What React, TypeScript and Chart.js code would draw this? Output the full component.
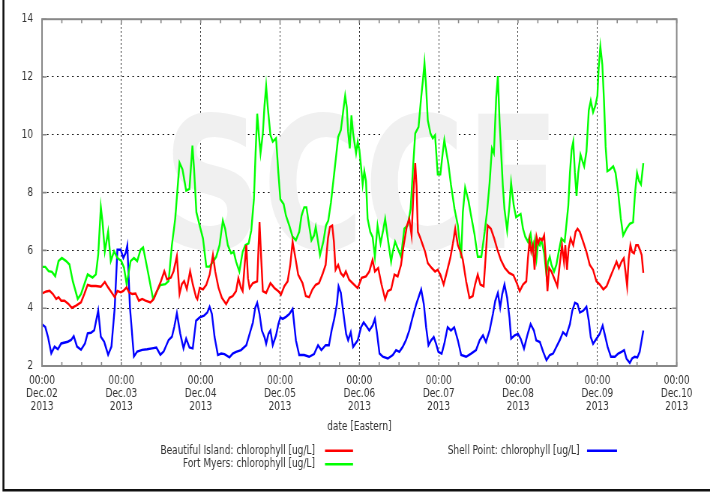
import React, { useEffect, useRef } from 'react';
import { Chart, registerables } from 'chart.js';

Chart.register(...registerables);

// ---------- data (hours since Dec 02 2013 00:00 Eastern) ----------
const dayLabels = ['Dec.02', 'Dec.03', 'Dec.04', 'Dec.05', 'Dec.06', 'Dec.07', 'Dec.08', 'Dec.09', 'Dec.10'];
const timeLabel = '00:00';
const yearLabel = '2013';
const yTicks = [2, 4, 6, 8, 10, 12, 14];
const xTitle = 'date [Eastern]';
const seriesNames = [
  'Beautiful Island: chlorophyll [ug/L]',
  'Fort Myers: chlorophyll [ug/L]',
  'Shell Point: chlorophyll [ug/L]',
];
const seriesColors = ['#ff0000', '#00ff00', '#0000ff'];

const biHours = [0, 1.3, 2.3, 3.3, 4.3, 5, 5.8, 6.8, 8, 9, 10.3, 11.8, 12.8, 13.8, 14.8, 16.3, 17.8, 19, 20, 21, 22, 22.8, 23.8, 24.6, 25.6, 26.3, 27.3, 28.3, 29.3, 30.3, 31.3, 32.8, 33.8, 34.8, 36, 37, 37.8, 39, 39.8, 40.8, 41.6, 42.3, 43, 43.8, 44.8, 45.6, 46.6,
  47, 47.7, 48.7, 49.7, 50.7, 51.7, 52.4, 53.4, 54.4, 55.7, 56.7, 57.7, 58.7, 59.4, 60.2, 60.7, 61.3, 61.8, 62.3, 62.8, 63.8, 65.1, 65.8, 66.3, 66.8, 67.8, 69.1, 70.3, 71.5, 72.3, 73.3, 74.3, 75.1, 75.8, 76.5, 77.5, 78.8, 79.8, 80.8, 81.8, 82.8, 83.8, 84.8, 85.8, 86.5, 87.1, 87.8, 88.3, 88.8, 89.6, 90.4, 91.2, 91.9, 92.9, 93.9, 94.9,
  95.5, 96.7, 98, 99, 100, 100.7, 101.7, 102.7, 103.8, 104.6, 105.6, 106.6, 107.6, 108.6, 109.4, 110.4, 111.1, 111.8, 112.4, 112.9, 113.3, 113.7, 114.5, 115.2, 115.9, 116.7, 117.9, 118.9, 119.7, 120.5, 121.5, 122.5, 123.5, 124.3, 125, 125.8, 126.6, 127.3, 128.3, 129.3, 130.3, 131, 131.8, 132.6, 133.6, 134.3, 134.8, 135.8, 136.8, 137.8, 138.8, 140, 141.3, 142.6, 143.6,
  144.5, 145.5, 146.5, 147, 147.5, 148, 148.5, 149, 149.6, 150.1, 150.6, 151.3, 151.9, 152.3, 152.9, 153.4, 154.1, 155.1, 155.9, 156.6, 157.3, 157.9, 158.3, 158.8, 159.3, 159.9, 160.7, 161.4, 162, 162.7, 163.7, 164.7, 165.7, 166.7, 167.7, 168.7, 169.8, 170.8, 171.8, 172.8, 173.8, 174.5, 175.3, 176, 176.5, 177, 177.5, 178, 178.5, 179.1, 179.7, 180.3, 180.9, 181.4, 181.9];
const biValues = [4.51, 4.58, 4.6, 4.49, 4.32, 4.38, 4.26, 4.26, 4.15, 4.01, 4.09, 4.2, 4.49, 4.81, 4.77, 4.77, 4.74, 4.91, 4.72, 4.55, 4.38, 4.6, 4.55, 4.6, 4.72, 4.55, 4.49, 4.51, 4.26, 4.32, 4.26, 4.2, 4.32, 4.6, 4.94, 5.28, 5.0, 5.06, 5.28, 5.8, 4.49, 4.83, 4.94, 4.66, 5.28, 4.83, 4.38,
  4.31, 4.7, 4.65, 4.81, 5.16, 5.84, 5.27, 4.7, 4.36, 4.14, 4.36, 4.42, 4.59, 5.04, 4.7, 4.59, 5.5, 6.18, 5.04, 4.7, 4.87, 4.93, 6.98, 5.73, 4.59, 4.53, 4.87, 4.7, 4.59, 4.47, 4.76, 4.93, 5.5, 6.3, 5.84, 5.16, 4.87, 4.42, 4.38, 4.65, 4.81, 4.87, 5.16, 5.5, 6.41, 6.81, 6.86, 6.3, 5.33, 5.5, 5.21, 5.1, 5.27, 4.99, 4.87, 4.76,
  4.7, 5.05, 5.1, 5.27, 5.67, 5.27, 5.39, 4.82, 4.31, 4.59, 4.65, 5.16, 5.1, 5.5, 6.18, 6.86, 7.09, 6.52, 8.11, 9.02, 8.23, 6.64, 6.41, 6.18, 5.95, 5.56, 5.39, 5.27, 5.33, 5.16, 4.82, 5.27, 5.73, 6.24, 6.75, 6.18, 5.95, 5.67, 4.93, 4.36, 4.42, 4.82, 5.16, 4.82, 4.76, 5.95, 6.86, 6.75, 6.41, 6.01, 5.67, 5.39, 5.22, 5.14, 4.88,
  4.59, 4.82, 4.93, 5.73, 6.35, 5.95, 6.18, 5.33, 6.47, 6.24, 6.41, 6.35, 6.52, 5.84, 4.59, 5.39, 5.27, 4.99, 4.76, 5.5, 6.18, 5.61, 6.18, 5.33, 6.07, 6.41, 6.18, 6.64, 6.75, 6.64, 6.3, 5.95, 5.5, 5.33, 4.93, 4.82, 4.65, 4.76, 5.05, 5.33, 5.61, 5.39, 5.61, 5.73, 5.27, 4.76, 5.73, 6.18, 5.95, 5.9, 6.18, 6.18, 6.01, 5.84, 5.22];

const fmHours = [0, 1, 2, 3, 4, 5, 6, 7.3, 8.3, 9.3, 10.8, 11.8, 13.8, 15.3, 16.3, 17, 17.8, 18.3, 19, 20, 20.8, 21.8, 22.8, 24, 24.8, 25.6, 26.8, 27.8, 28.8, 29.8, 30.6, 31.8, 33.6, 34.8, 35.8, 37.3, 38.3, 39.3, 40.3, 41.6, 42.5, 43.6, 44.6, 45.5, 46,
  46.7, 47.7, 48.7, 49.7, 50.7, 51.7, 52.7, 53.7, 54.7, 55.4, 56.2, 57.2, 58, 58.7, 59.7, 60.7, 61.5, 62.5, 63.3, 64.1, 64.6, 65.1, 65.6, 66.1, 66.8, 67.3, 67.8, 68.3, 69.1, 69.8, 70.8, 71.5, 72.1, 73.1, 73.8, 74.8, 75.8, 76.8, 77.8, 78.5, 79.3, 80, 80.8, 81.5, 82.3, 82.8, 83.5, 84.1, 85.1, 85.9, 86.6, 87.4, 88.4, 89.6, 90.4, 91.2, 91.7, 92.2, 92.6, 93.1, 93.6, 94.1,
  95, 95.5, 96, 96.5, 97, 97.5, 98, 98.5, 99.3, 100, 100.7, 101.5, 102.4, 103.1, 103.8, 104.6, 105.6, 106.1, 106.8, 107.6, 108.6, 109.6, 110.6, 111.5, 112.2, 112.9, 113.9, 114.7, 115.2, 115.7, 116.2, 116.7, 117.5, 118.2, 118.9, 119.7, 120.5, 121.2, 121.7, 122.2, 122.9, 123.7, 124.8, 125.8, 126.8, 127.3, 128, 129, 129.8, 130.8, 131.8, 132.9, 133.9, 134.7, 135.4, 136.1, 136.7, 137.4, 137.9, 138.4, 138.9, 139.4, 139.9, 140.7, 141.4, 141.9, 142.7, 143.4,
  144, 144.8, 145.5, 146.2, 147, 147.8, 148.5, 149.1, 149.6, 150.1, 150.6, 151.1, 151.9, 152.6, 153.1, 153.6, 154.1, 154.9, 155.6, 156.3, 157.1, 158.1, 158.6, 159.2, 159.7, 160.2, 160.7, 161.2, 161.7, 162.2, 162.9, 163.5, 164, 164.7, 165.4, 166, 166.7, 167.4, 168, 168.4, 168.9, 169.5, 170, 170.5, 171, 171.8, 172.8, 173.5, 174.3, 175.1, 175.8, 176.8, 177.8, 178.8, 179.4, 180, 180.6, 181.2, 181.9];
const fmValues = [5.43, 5.43, 5.28, 5.26, 5.11, 5.63, 5.74, 5.63, 5.51, 4.94, 4.32, 4.49, 5.17, 5.06, 5.17, 5.85, 7.5, 6.99, 5.97, 6.65, 5.63, 5.97, 5.74, 5.63, 5.4, 4.83, 5.63, 5.74, 5.63, 6.02, 6.1, 5.4, 4.32, 4.6, 4.8, 4.83, 4.94, 6.19, 7.1, 9.03, 8.8, 8.07, 8.13, 9.63, 8.8,
  7.32, 6.86, 6.41, 5.44, 5.44, 5.61, 5.78, 6.18, 7.03, 6.75, 6.18, 5.9, 5.95, 5.61, 5.27, 5.95, 6.18, 6.24, 6.69, 7.77, 9.36, 10.73, 9.99, 9.36, 10.05, 11.01, 11.69, 10.95, 9.99, 9.76, 9.88, 8.68, 7.77, 7.6, 7.2, 6.86, 6.47, 6.35, 6.64, 7.2, 7.49, 7.49, 6.86, 6.35, 6.52, 6.81, 6.3, 5.84, 6.3, 6.86, 7.03, 7.66, 8.68, 9.93, 10.16, 10.9, 11.35, 10.95, 10.1, 9.53, 10.67, 10.05,
  9.36, 9.76, 9.48, 8.91, 8.28, 8.74, 8.4, 7.09, 6.64, 6.47, 5.78, 6.86, 6.24, 6.64, 7.09, 6.41, 5.61, 5.95, 6.3, 6.07, 5.78, 6.75, 6.86, 7.43, 8.8, 10.05, 10.27, 11.3, 11.86, 12.49, 11.64, 10.5, 10.05, 9.88, 9.99, 8.63, 8.63, 9.36, 9.82, 9.48, 9.02, 8.28, 7.43, 6.86, 5.73, 7.32, 8.17, 7.72, 7.2, 6.58, 5.78, 5.78, 6.64, 7.43, 8.34, 9.53, 9.36, 11.3, 12.03, 10.5, 9.36, 8.23, 7.43, 6.69, 7.55, 8.34, 7.55, 7.15,
  7.2, 7.26, 6.75, 6.47, 6.3, 6.58, 5.95, 6.35, 5.73, 6.3, 6.18, 6.35, 5.9, 5.16, 5.61, 5.78, 5.5, 5.27, 5.5, 5.95, 6.41, 6.3, 6.86, 7.55, 8.68, 9.48, 9.76, 8.68, 7.89, 8.68, 9.31, 9.08, 8.91, 9.42, 10.84, 11.18, 10.78, 11.01, 11.35, 12.32, 13.06, 12.43, 11.18, 9.59, 8.74, 8.8, 8.91, 8.68, 8.0, 7.09, 6.52, 6.75, 6.92, 6.98, 8.0, 8.68, 8.4, 8.28, 9.02];

const spHours = [0, 1, 1.8, 2.8, 3.8, 4.8, 5.8, 7.8, 8.8, 9.6, 10.6, 11.8, 13, 13.8, 14.8, 15.8, 17, 17.8, 18.8, 20, 21, 22, 22.8, 23.8, 24.6, 25.3, 25.8, 26.6, 27.8, 28.8, 30.3, 31.8, 33.3, 34.6, 35.8, 36.8, 38.3, 39.3, 40, 40.8, 41.8, 42.8, 43.6, 44.6, 45.6, 46.6,
  47.7, 49, 50, 50.7, 51.4, 52.2, 53.2, 54.2, 55.2, 56.7, 57.7, 58.7, 60.2, 61.8, 62.8, 63.8, 64.5, 65.1, 65.8, 66.5, 67.3, 67.8, 68.5, 69.1, 69.8, 70.8, 71.5, 72.1, 72.8, 73.8, 74.8, 75.8, 76.8, 77.8, 79.3, 80.8, 82.3, 83.5, 84.5, 85.8, 86.8, 87.6, 88.4, 89.2, 89.7, 90.4, 91.2, 92, 92.6, 93.4, 94.1,
  95.5, 96.5, 97.3, 98, 99, 100, 100.7, 101.3, 102.1, 103.1, 104.6, 106.1, 107.1, 108.1, 109.1, 110.1, 111.1, 112.1, 113.2, 114.7, 115.5, 116.2, 116.9, 117.7, 118.5, 119.2, 119.9, 120.9, 121.7, 122.7, 123.7, 124.7, 125.8, 126.8, 128.3, 129.8, 131.3, 132.4, 133.4, 134.3, 135.4, 136.4, 137.1, 137.9, 138.6, 139.2, 139.9, 140.7, 141.4, 141.9, 143,
  144, 144.8, 145.8, 146.8, 147.8, 148.8, 149.5, 150.6, 151.6, 152.6, 153.6, 154.6, 155.6, 156.6, 157.6, 158.6, 159.7, 160.4, 161.2, 162, 162.7, 163.7, 164.7, 165.4, 166, 166.7, 167.7, 168.7, 169.6, 170.3, 171.1, 172.1, 173.3, 174.3, 175.3, 176.1, 176.8, 177.8, 178.5, 179.3, 180.1, 180.8, 181.3, 181.9];
const spValues = [3.44, 3.35, 3.01, 2.44, 2.67, 2.58, 2.78, 2.84, 2.9, 3.03, 2.67, 2.56, 2.78, 3.13, 3.15, 3.24, 3.92, 3.01, 2.84, 2.39, 2.67, 4.03, 6.02, 6.02, 5.74, 5.91, 6.17, 4.03, 2.33, 2.5, 2.56, 2.58, 2.61, 2.64, 2.39, 2.5, 2.9, 3.01, 3.35, 3.83, 3.13, 2.61, 2.95, 2.64, 2.61, 3.57,
  3.68, 3.74, 3.85, 4.05, 3.8, 3.0, 2.38, 2.43, 2.41, 2.3, 2.43, 2.49, 2.55, 2.72, 3.11, 3.51, 4.02, 4.19, 3.8, 3.23, 3.0, 2.77, 3.11, 3.23, 2.72, 3.06, 3.45, 3.68, 3.63, 3.7, 3.8, 3.97, 2.89, 2.38, 2.38, 2.32, 2.41, 2.72, 2.55, 2.72, 2.72, 3.23, 3.63, 4.14, 4.76, 4.53, 3.8, 3.11, 2.89, 3.17, 2.66,
  2.89, 3.34, 3.51, 3.4, 3.23, 3.4, 3.63, 3.17, 2.43, 2.32, 2.26, 2.38, 2.55, 2.49, 2.66, 2.89, 3.23, 3.68, 4.14, 4.65, 4.14, 3.34, 2.72, 2.89, 3.0, 2.77, 2.49, 2.43, 2.77, 3.34, 3.23, 3.34, 2.89, 2.38, 2.32, 2.43, 2.55, 2.89, 3.06, 2.83, 3.23, 3.8, 4.25, 4.53, 4.02, 4.48, 4.82, 4.36, 3.68, 2.95, 3.06,
  3.11, 2.94, 2.6, 3.06, 3.45, 3.23, 2.89, 2.83, 2.49, 2.2, 2.38, 2.43, 2.66, 2.89, 3.17, 3.06, 3.45, 3.91, 4.19, 4.14, 3.85, 3.91, 4.05, 3.57, 3.0, 2.77, 2.94, 3.11, 3.4, 3.06, 2.66, 2.32, 2.32, 2.43, 2.49, 2.55, 2.26, 2.11, 2.26, 2.32, 2.3, 2.49, 2.83, 3.23];

// ---------- layout (canvas is drawn wide and squeezed horizontally) ----------
const W = 947;
const H = 492;
const SX = 710 / W;
const FONT = '"DejaVu Sans", sans-serif';
const TEXT = '#333333';
const FRAME = '#888888';

const toPts = (hs: number[], vs: number[]) => hs.map((h, i) => ({ x: h, y: vs[i] }));

const decorPlugin = {
  id: 'decor',
  beforeDatasetsDraw(chart: any) {
    const { ctx } = chart;
    ctx.save();
    ctx.font = `bold 184px ${FONT}`;
    ctx.fillStyle = '#f0f0f0';
    ctx.textBaseline = 'alphabetic';
    const text = 'SCCF';
    const w = ctx.measureText(text).width;
    const left = 163 / SX;
    const right = 560 / SX;
    ctx.translate(left, 248);
    ctx.scale((right - left) / w, 1);
    ctx.fillText(text, 0, 0);
    ctx.restore();
  },
  afterDatasetsDraw(chart: any) {
    const { ctx, chartArea: a } = chart;
    const xs = chart.scales.x;
    const ys = chart.scales.y;
    ctx.save();
    ctx.strokeStyle = FRAME;
    ctx.lineWidth = 1.6;
    ctx.beginPath();
    for (let h = 0; h <= 192; h += 6) {
      const px = xs.getPixelForValue(h);
      ctx.moveTo(px, a.bottom);
      ctx.lineTo(px, a.bottom - 4);
      ctx.moveTo(px, a.top);
      ctx.lineTo(px, a.top + 4);
    }
    for (const v of yTicks) {
      const py = ys.getPixelForValue(v);
      ctx.moveTo(a.left, py);
      ctx.lineTo(a.left + 6, py);
      ctx.moveTo(a.right, py);
      ctx.lineTo(a.right - 6, py);
    }
    ctx.stroke();
    ctx.lineWidth = 2;
    ctx.strokeRect(a.left, a.top, a.right - a.left, a.bottom - a.top);
    ctx.restore();
  },
  afterDraw(chart: any) {
    const { ctx, chartArea: a } = chart;
    ctx.save();
    ctx.font = `12px ${FONT}`;
    ctx.fillStyle = TEXT;
    ctx.textBaseline = 'middle';
    ctx.textAlign = 'center';
    ctx.fillText(xTitle, (a.left + a.right) / 2, 426.5);

    const legend = [
      { textRight: 315, lineL: 325, lineR: 353, y: 450.7 },
      { textRight: 315, lineL: 325, lineR: 353, y: 464.3 },
      { textRight: 579.5, lineL: 587, lineR: 617, y: 450.7 },
    ];
    legend.forEach((L, i) => {
      ctx.textAlign = 'right';
      ctx.fillStyle = TEXT;
      ctx.fillText(seriesNames[i], L.textRight / SX, L.y);
      ctx.strokeStyle = seriesColors[i];
      ctx.lineWidth = 2.6;
      ctx.beginPath();
      ctx.moveTo(L.lineL / SX, L.y);
      ctx.lineTo(L.lineR / SX, L.y);
      ctx.stroke();
    });

    ctx.strokeStyle = '#111111';
    ctx.lineWidth = 2.6;
    ctx.beginPath();
    ctx.moveTo(4.6, 0);
    ctx.lineTo(4.6, 490.3);
    ctx.lineTo(W, 490.3);
    ctx.stroke();
    ctx.restore();
  },
};

export default function App() {
  const ref = useRef<HTMLCanvasElement | null>(null);

  useEffect(() => {
    if (!ref.current) return;
    const chart = new Chart(ref.current, {
      type: 'line',
      data: {
        datasets: [
          { label: seriesNames[0], data: toPts(biHours, biValues), borderColor: seriesColors[0] },
          { label: seriesNames[1], data: toPts(fmHours, fmValues), borderColor: seriesColors[1] },
          { label: seriesNames[2], data: toPts(spHours, spValues), borderColor: seriesColors[2] },
        ].map((d) => ({ ...d, borderWidth: 2.4, pointRadius: 0, tension: 0, fill: false })),
      },
      options: {
        responsive: false,
        devicePixelRatio: 1,
        animation: false,
        events: [],
        layout: { padding: { left: 0, right: W - 676.7 / SX, top: 14, bottom: 0 } },
        plugins: { legend: { display: false }, tooltip: { enabled: false }, title: { display: false } },
        scales: {
          x: {
            type: 'linear',
            min: 0,
            max: 192,
            afterFit: (s: any) => { s.height = H - 366; },
            ticks: {
              stepSize: 24,
              autoSkip: false,
              maxRotation: 0,
              padding: 8.6,
              color: TEXT,
              font: { family: FONT, size: 12, lineHeight: 1.07 },
              callback: (v: any) => {
                const i = Math.round(Number(v) / 24);
                return [timeLabel, dayLabels[i], yearLabel];
              },
            },
            grid: { color: '#000000', lineWidth: 1, drawTicks: false },
            border: { display: false, dash: [1.5, 2.5] },
          },
          y: {
            min: 2,
            max: 14,
            afterFit: (s: any) => { s.width = 42 / SX; },
            ticks: {
              stepSize: 2,
              padding: 12,
              color: TEXT,
              font: { family: FONT, size: 12 },
            },
            grid: { color: '#000000', lineWidth: 1, drawTicks: false },
            border: { display: false, dash: [2, 4.7] },
          },
        },
      },
      plugins: [decorPlugin],
    } as any);
    return () => chart.destroy();
  }, []);

  return (
    <div style={{ position: 'fixed', left: 0, top: 0, width: 710, height: 492, overflow: 'hidden', background: '#ffffff' }}>
      <canvas
        ref={ref}
        width={W}
        height={H}
        style={{ width: W, height: H, display: 'block', transform: `scaleX(${SX})`, transformOrigin: '0 0' }}
      />
    </div>
  );
}
